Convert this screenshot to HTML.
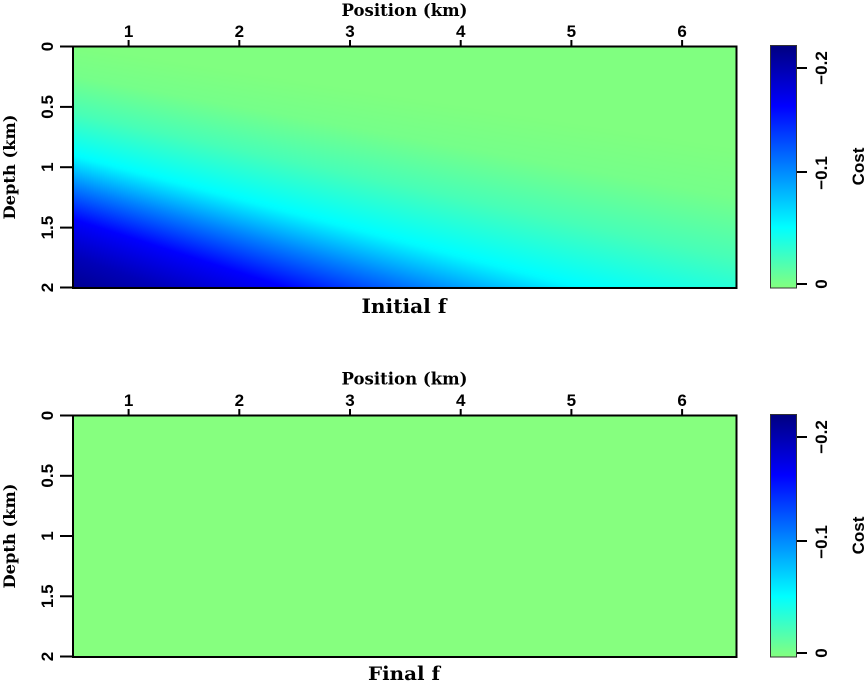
<!DOCTYPE html>
<html>
<head>
<meta charset="utf-8">
<style>
html,body{margin:0;padding:0;background:#fff;}
body{width:865px;height:682px;overflow:hidden;position:relative;}
#fb{position:absolute;left:73px;top:46px;width:664px;height:242px;
 background:linear-gradient(163deg,#80ff80 0%,#80ff80 40%,#40ffc0 55%,#00ffff 72%,#0000ff 90%,#000080 100%);}
canvas{position:absolute;left:73px;top:46px;}
svg{position:absolute;left:0;top:0;}
.tk{font-family:"Liberation Sans",Arial,sans-serif;font-weight:bold;font-size:17px;fill:#000;}
.sr{font-family:"DejaVu Serif","Liberation Serif",serif;font-weight:bold;fill:#000;}
</style>
</head>
<body>
<div id="fb"></div>
<canvas id="c1" width="664" height="242"></canvas>
<svg width="865" height="682" viewBox="0 0 865 682" xmlns="http://www.w3.org/2000/svg">
<defs>
<linearGradient id="cb" x1="0" y1="0" x2="0" y2="1">
<stop offset="0" stop-color="#000080"/>
<stop offset="0.25" stop-color="#0000ff"/>
<stop offset="0.75" stop-color="#00ffff"/>
<stop offset="1" stop-color="#84ff7e"/>
</linearGradient>
</defs>

<!-- ===== TOP PANEL ===== -->
<text class="sr" x="404.5" y="16" font-size="17" text-anchor="middle" textLength="126" lengthAdjust="spacingAndGlyphs">Position (km)</text>
<g stroke="#000" stroke-width="2">
<line x1="128.6" y1="40" x2="128.6" y2="46"/>
<line x1="239.3" y1="40" x2="239.3" y2="46"/>
<line x1="350" y1="40" x2="350" y2="46"/>
<line x1="460.7" y1="40" x2="460.7" y2="46"/>
<line x1="571.4" y1="40" x2="571.4" y2="46"/>
<line x1="682.1" y1="40" x2="682.1" y2="46"/>
<line x1="60" y1="46.5" x2="73" y2="46.5"/>
<line x1="60" y1="106.9" x2="73" y2="106.9"/>
<line x1="60" y1="167.2" x2="73" y2="167.2"/>
<line x1="60" y1="227.6" x2="73" y2="227.6"/>
<line x1="60" y1="287.5" x2="73" y2="287.5"/>
</g>
<g class="tk" text-anchor="middle">
<text x="128.6" y="37">1</text>
<text x="239.3" y="37">2</text>
<text x="350" y="37">3</text>
<text x="460.7" y="37">4</text>
<text x="571.4" y="37">5</text>
<text x="682.1" y="37">6</text>
<text transform="translate(53,46.5) rotate(-90)">0</text>
<text transform="translate(53,106.9) rotate(-90)">0.5</text>
<text transform="translate(53,167.2) rotate(-90)">1</text>
<text transform="translate(53,227.6) rotate(-90)">1.5</text>
<text transform="translate(53,287.5) rotate(-90)">2</text>
</g>
<text class="sr" transform="translate(15,167) rotate(-90)" font-size="16" text-anchor="middle" textLength="105" lengthAdjust="spacingAndGlyphs">Depth (km)</text>
<rect x="73" y="46.5" width="663.5" height="241.5" fill="none" stroke="#000" stroke-width="2"/>
<text class="sr" x="404" y="313" font-size="20" text-anchor="middle" textLength="85" lengthAdjust="spacingAndGlyphs">Initial f</text>

<!-- top colorbar -->
<rect x="770.5" y="45.5" width="26" height="242.5" fill="url(#cb)" stroke="#333" stroke-width="1"/>
<g stroke="#000" stroke-width="2">
<line x1="797" y1="68" x2="807" y2="68"/>
<line x1="797" y1="172" x2="807" y2="172"/>
<line x1="797" y1="284" x2="807" y2="284"/>
</g>
<g class="tk" text-anchor="middle">
<text transform="translate(827,68) rotate(-90)">−0.2</text>
<text transform="translate(827,173) rotate(-90)">−0.1</text>
<text transform="translate(827,284) rotate(-90)">0</text>
<text transform="translate(864,166.5) rotate(-90)">Cost</text>
</g>

<!-- ===== BOTTOM PANEL ===== -->
<text class="sr" x="404.5" y="384.5" font-size="17" text-anchor="middle" textLength="126" lengthAdjust="spacingAndGlyphs">Position (km)</text>
<g stroke="#000" stroke-width="2">
<line x1="128.6" y1="409" x2="128.6" y2="415"/>
<line x1="239.3" y1="409" x2="239.3" y2="415"/>
<line x1="350" y1="409" x2="350" y2="415"/>
<line x1="460.7" y1="409" x2="460.7" y2="415"/>
<line x1="571.4" y1="409" x2="571.4" y2="415"/>
<line x1="682.1" y1="409" x2="682.1" y2="415"/>
<line x1="60" y1="415.5" x2="73" y2="415.5"/>
<line x1="60" y1="475.8" x2="73" y2="475.8"/>
<line x1="60" y1="536" x2="73" y2="536"/>
<line x1="60" y1="596.3" x2="73" y2="596.3"/>
<line x1="60" y1="656.5" x2="73" y2="656.5"/>
</g>
<g class="tk" text-anchor="middle">
<text x="128.6" y="406">1</text>
<text x="239.3" y="406">2</text>
<text x="350" y="406">3</text>
<text x="460.7" y="406">4</text>
<text x="571.4" y="406">5</text>
<text x="682.1" y="406">6</text>
<text transform="translate(53,415.5) rotate(-90)">0</text>
<text transform="translate(53,475.8) rotate(-90)">0.5</text>
<text transform="translate(53,536) rotate(-90)">1</text>
<text transform="translate(53,596.3) rotate(-90)">1.5</text>
<text transform="translate(53,656.5) rotate(-90)">2</text>
</g>
<text class="sr" transform="translate(15,536) rotate(-90)" font-size="16" text-anchor="middle" textLength="105" lengthAdjust="spacingAndGlyphs">Depth (km)</text>
<rect x="73" y="415.5" width="663.5" height="241.5" fill="#86ff7f" stroke="#000" stroke-width="2"/>
<text class="sr" x="404" y="680" font-size="19" text-anchor="middle" textLength="72" lengthAdjust="spacingAndGlyphs">Final f</text>

<!-- bottom colorbar -->
<rect x="770.5" y="414.5" width="26" height="242.5" fill="url(#cb)" stroke="#333" stroke-width="1"/>
<g stroke="#000" stroke-width="2">
<line x1="797" y1="437" x2="807" y2="437"/>
<line x1="797" y1="541" x2="807" y2="541"/>
<line x1="797" y1="653" x2="807" y2="653"/>
</g>
<g class="tk" text-anchor="middle">
<text transform="translate(827,437) rotate(-90)">−0.2</text>
<text transform="translate(827,542) rotate(-90)">−0.1</text>
<text transform="translate(827,653) rotate(-90)">0</text>
<text transform="translate(864,535.5) rotate(-90)">Cost</text>
</g>
</svg>
<script>
(function(){
var cv=document.getElementById('c1');
if(!cv||!cv.getContext)return;
var ctx=cv.getContext('2d');
var W=664,H=242;
var img=ctx.createImageData(W,H);
var d=img.data;
var K=[[0,0],[30,0.02],[67,0.11],[110,0.26],[140,0.5],[173,0.75],[210,0.89],[243,0.97],[280,1]];
function interp(c){
  if(c<=0)return 0;
  for(var i=1;i<K.length;i++){
    if(c<=K[i][0]){var a=K[i-1],b=K[i];return a[1]+(b[1]-a[1])*(c-a[0])/(b[0]-a[0]);}
  }
  return 1;
}
function cl(v){return v<0?0:(v>1?1:v);}
for(var y=0;y<H;y++){
  for(var x=0;x<W;x++){
    var c=(y-0.155*x)/(1+0.00095*x);
    var v=interp(c);
    var t=0.5*(1-v);
    var r=cl(Math.min(4*t-1.5,-4*t+4.5));
    var g=cl(Math.min(4*t-0.5,-4*t+3.5));
    var b=cl(Math.min(4*t+0.5,-4*t+2.5));
    var k=(y*W+x)*4;
    d[k]=Math.round(r*255);d[k+1]=Math.round(g*255);d[k+2]=Math.round(b*255);d[k+3]=255;
  }
}
ctx.putImageData(img,0,0);
})();
</script>
</body>
</html>
